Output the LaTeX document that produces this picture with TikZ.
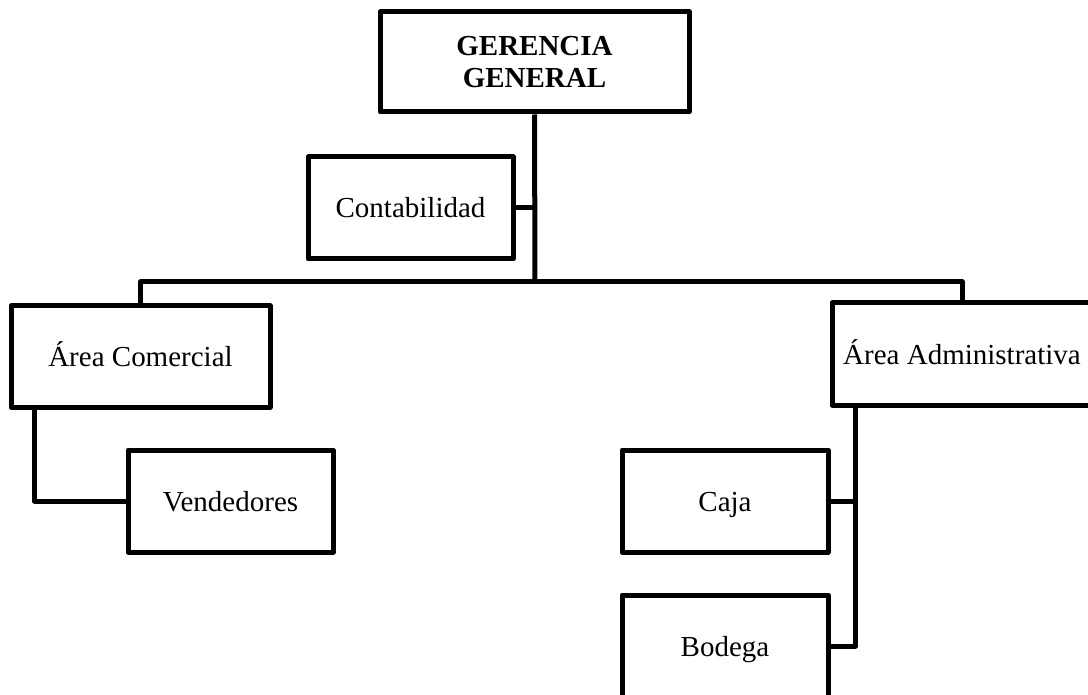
\documentclass[tikz,border=0pt]{standalone}
\usepackage{fontspec}
\setmainfont{Liberation Serif}
\begin{document}
\begin{tikzpicture}[x=1pt,y=-1pt,
  box/.style={draw, line width=5pt, line join=round, rectangle, inner sep=0pt,
    align=center, font=\fontsize{29}{32}\selectfont},
  onebox/.style={box, text height=26pt, text depth=6pt},
  conn/.style={line width=5pt, line join=round}]
\clip (0,0) rectangle (1088,695);
\useasboundingbox (0,0) rectangle (1088,695);
\fill[white] (0,0) rectangle (1088,695);
\node[box, minimum width=309pt, minimum height=100pt, font=\fontsize{29}{32}\selectfont\bfseries] (gg) at (534.5,62) {GERENCIA\\GENERAL};
\node[onebox, minimum width=205pt, minimum height=102pt] (cont) at (410.5,208) {Contabilidad};
\node[onebox, minimum width=259pt, minimum height=101pt] (com) at (140.5,356.5) {Área Comercial};
\node[onebox, minimum width=205pt, minimum height=102pt] (ven) at (230.5,501) {Vendedores};
\node[onebox, minimum width=260pt, minimum height=102pt] (adm) at (962,354) {Área Administrativa};
\node[onebox, minimum width=206pt, minimum height=102pt] (caja) at (725,501) {Caja};
\node[onebox, minimum width=206pt, minimum height=102pt] (bod) at (725,646) {Bodega};
\coordinate (bus) at (535,282);
\coordinate (comline) at ([xshift=26pt]com.south west);
\coordinate (admline) at ([xshift=26pt]adm.south west);
\draw[conn] (gg.south) -- (bus);
\draw[conn] (cont.east) -- (cont.east -| bus);
\draw[conn] (com.north) |- (bus) -| (adm.north);
\draw[conn] (comline) |- (ven.west);
\draw[conn] (admline) |- (bod.east);
\draw[conn] (caja.east) -- (caja.east -| admline);
\end{tikzpicture}
\end{document}
